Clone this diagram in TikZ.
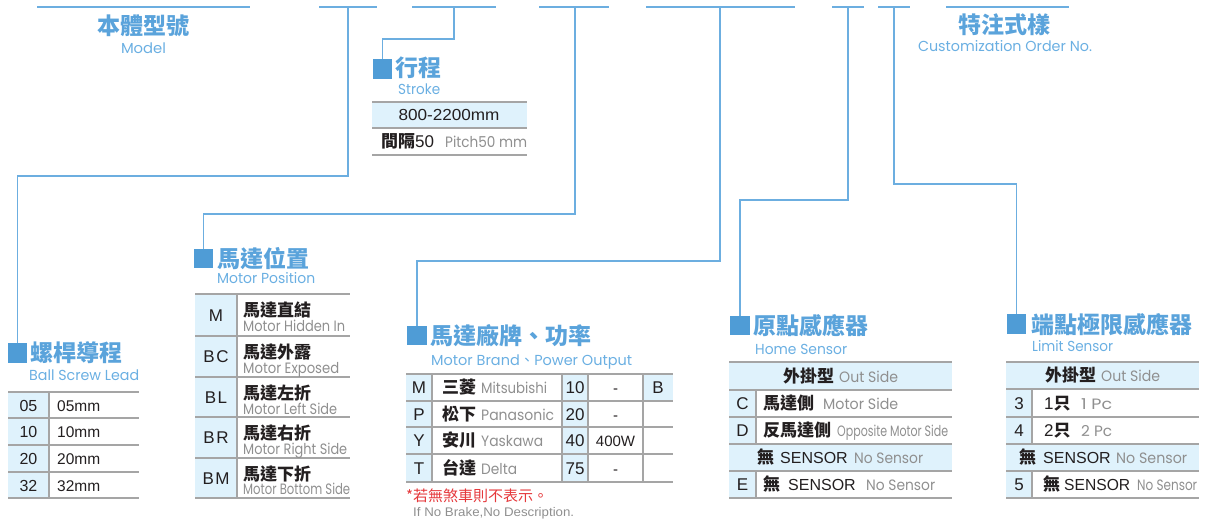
\documentclass[tikz,border=0pt]{standalone}
\usepackage{fontspec}
\usepackage{graphicx}
\setmainfont{Liberation Sans}
\newfontfamily\cjk{Noto Sans CJK TC}
\newfontfamily\eng{Poppins}
\newcommand\fw[2]{\resizebox{#1pt}{\height}{#2}}
\definecolor{lineblue}{HTML}{6CAEE0}
\definecolor{titleblue}{HTML}{5AA3DB}
\definecolor{subblue}{HTML}{6AAFE2}
\definecolor{sqblue}{HTML}{4F9CD6}
\definecolor{tgray}{HTML}{A5A5A5}
\definecolor{lightfill}{HTML}{DFF2FC}
\definecolor{dark}{HTML}{231F20}
\definecolor{graytext}{HTML}{8F8F8F}
\definecolor{notered}{HTML}{E5383B}
\tikzset{
 conn/.style={draw=lineblue, line width=1.6pt},
 sq/.style={fill=sqblue, minimum size=19.5pt, inner sep=0pt, draw=none},
 ttl/.style={font=\cjk\bfseries\fontsize{23}{23}\selectfont, text=titleblue, inner sep=0pt, anchor=base west},
 sub/.style={font=\eng\fontsize{14.5}{14.5}\selectfont, text=subblue, inner sep=0pt, anchor=base west},
 tl/.style={draw=tgray, line width=1.3pt},
 lf/.style={fill=lightfill, draw=none},
 cz/.style={font=\cjk\bfseries\fontsize{17}{17}\selectfont, text=dark, inner sep=0pt, anchor=base west},
 gr/.style={font=\eng\fontsize{15}{15}\selectfont, text=graytext, inner sep=0pt, anchor=base west},
 code/.style={font=\fontsize{17}{17}\selectfont, text=dark, inner sep=0pt, anchor=base},
 num/.style={font=\fontsize{15.5}{15.5}\selectfont, text=dark, inner sep=0pt, anchor=base west},
 sen/.style={font=\fontsize{16}{16}\selectfont, text=dark, inner sep=0pt, anchor=base west},
}
\begin{document}
\begin{tikzpicture}[x=1pt,y=-1pt]
\useasboundingbox (0,0) rectangle (1210,521);
% ---------- top line segments ----------
\foreach \a/\b in {37/250,319/377,412/496,539/609,646/795,832/864,878/910,946/1069}
  \draw[conn] (\a,7) -- (\b,7);
\coordinate (j1) at (348,7);
\coordinate (j2) at (454,7);
\coordinate (j3) at (575,7);
\coordinate (j4) at (720,7);
\coordinate (j5) at (848,7);
\coordinate (j6) at (894,7);
% ---------- headers ----------
\node[ttl, anchor=base] (tmodel) at (143.5,34.5) {本體型號};
\node[sub, anchor=base] (smodel) at (143.5,54) {\fw{45}{Model}};
\node[ttl, anchor=base] (tcust) at (1004,33.5) {特注式樣};
\node[sub, anchor=base] (scust) at (1005,52) {\fw{174}{Customization Order No.}};
% ---------- squares ----------
\node[sq] (sqst) at (382.5,69) {};
\node[sq] (sqball) at (17.5,353) {};
\node[sq] (sqmp) at (203.5,258.5) {};
\node[sq] (sqbr) at (417,335.5) {};
\node[sq] (sqhome) at (740,325.5) {};
\node[sq] (sqlim) at (1016.5,324) {};
% ---------- connectors ----------
\draw[conn] (j1) -- ++(0,169) -| (sqball.north);
\draw[conn] (j2) -- ++(0,32) -| (sqst.north);
\draw[conn] (j3) -- ++(0,207) -| (sqmp.north);
\draw[conn] (j4) -- ++(0,254) -| (sqbr.north);
\draw[conn] (j5) -- ++(0,193) -| (sqhome.north);
\draw[conn] (j6) -- ++(0,177) -| (sqlim.north);
% ---------- stroke ----------
\node[ttl] (tst) at (395,76.5) {行程};
\node[sub] (sst) at (398,95) {\fw{42}{Stroke}};
\fill[lf] (372,102) rectangle (527,128);
\foreach \y in {102,128,155} \draw[tl] (372,\y) -- (527,\y);
\node[code, font=\fontsize{16}{16}\selectfont] (st1) at (449,121) {\fw{101}{800-2200mm}};
\node[cz] (st2a) at (381,147.5) {間隔{\rmfamily\mdseries 50}};
\node[gr] (st2b) at (445,147.5) {\fw{82}{Pitch50 mm}};
% ---------- ball screw lead ----------
\node[ttl] (tball) at (30,361.5) {螺桿導程};
\node[sub] (sball) at (29,380) {\fw{110}{Ball Screw Lead}};
\fill[lf] (8,392) rectangle (49,498);
\foreach \y in {392,418,445,472,498} \draw[tl] (8,\y) -- (139,\y);
\draw[tl] (49,392) -- (49,498);
\foreach \c/\yb [count=\i] in {05/411,10/437.5,20/464.5,32/491}{
  \node[code, font=\fontsize{16}{16}\selectfont] (bc\i) at (28.5,\yb) {\c};
  \node[num] (bv\i) at (57,\yb) {\c mm};
}
% ---------- motor position ----------
\node[ttl] (tmp) at (217,267.5) {馬達位置};
\node[sub] (smp) at (217,284) {\fw{98}{Motor Position}};
\fill[lf] (195,294) rectangle (237,498);
\foreach \y in {294,336,377,417,458,498} \draw[tl] (195,\y) -- (350,\y);
\draw[tl] (237,294) -- (237,498);
\node[code] (mc1) at (216,321) {M};
\node[code] (mc2) at (216,362.5) {B\kern1.5pt C};
\node[code] (mc3) at (216,403) {B\kern1.5pt L};
\node[code] (mc4) at (216,443.5) {B\kern1.5pt R};
\node[code] (mc5) at (216,484) {B\kern1.5pt M};
\node[cz] (mz1) at (243,316.5) {馬達直結};
\node[cz] (mz2) at (243,358.5) {馬達外露};
\node[cz] (mz3) at (243,399.5) {馬達左折};
\node[cz] (mz4) at (243,439.5) {馬達右折};
\node[cz] (mz5) at (243,480.5) {馬達下折};
\node[gr] (me1) at (243,331) {\fw{102}{Motor Hidden In}};
\node[gr] (me2) at (243,373) {\fw{96}{Motor Exposed}};
\node[gr] (me3) at (243,414) {\fw{94}{Motor Left Side}};
\node[gr] (me4) at (243,454) {\fw{104}{Motor Right Side}};
\node[gr] (me5) at (243,494.5) {\fw{107}{Motor Bottom Side}};
% ---------- motor brand / power ----------
\node[ttl] (tbr) at (430,344.5) {馬達廠牌、功率};
\node[sub] (sbr) at (431,365) {\fw{201}{Motor Brand{\cjk 、}Power Output}};
\fill[lf] (406,374) rectangle (432,482);
\fill[lf] (562,374) rectangle (588,482);
\fill[lf] (643,374) rectangle (673,401);
\foreach \y in {374,401,427,454,482} \draw[tl] (406,\y) -- (673,\y);
\foreach \x in {432,562,588,643} \draw[tl] (\x,374) -- (\x,482);
\foreach \c/\z/\e/\w/\n/\p/\yb [count=\i] in {M/三菱/Mitsubishi/66/10/-/393.5, P/松下/Panasonic/73/20/-/420, Y/安川/Yaskawa/62/40/400W/446.5, T/台達/Delta/36/75/-/474}{
  \node[code] (brc\i) at (419,\yb) {\c};
  \node[cz] (brz\i) at (442,\yb) {\z};
  \node[gr] (bre\i) at (481,\yb) {\fw{\w}{\e}};
  \node[code] (brn\i) at (575,\yb) {\n};
  \node[code, font=\fontsize{15}{15}\selectfont] (brp\i) at (615.5,\yb) {\p};
}
\node[code] (brb) at (658,393.5) {B};
\node[font=\cjk\fontsize{15}{15}\selectfont, text=notered, anchor=base west, inner sep=0pt] (note1) at (406,501.5) {*若無煞車則不表示。};
\node[font=\fontsize{12.5}{12.5}\selectfont, text=graytext, anchor=base west, inner sep=0pt] (note2) at (413,516.5) {\fw{161}{If No Brake,No Description.}};
% ---------- home sensor ----------
\node[ttl] (thome) at (753,334.5) {原點感應器};
\node[sub] (shome) at (755,354) {\fw{92}{Home Sensor}};
\fill[lf] (729,362) rectangle (952,390);
\fill[lf] (729,444) rectangle (952,471);
\fill[lf] (729,390) rectangle (756,444);
\fill[lf] (729,471) rectangle (756,498);
\foreach \y in {362,390,417,444,471,498} \draw[tl] (729,\y) -- (952,\y);
\draw[tl] (756,390) -- (756,444);
\draw[tl] (756,471) -- (756,498);
\node[cz] (h1z) at (783,382) {外掛型};
\node[gr] (h1e) at (839,382) {\fw{59}{Out Side}};
\node[code] (h2c) at (742.5,409.5) {C};
\node[cz] (h2z) at (763,409.5) {馬達側};
\node[gr] (h2e) at (823,409.5) {\fw{75}{Motor Side}};
\node[code] (h3c) at (742.5,436.5) {D};
\node[cz] (h3z) at (763,436.5) {反馬達側};
\node[gr] (h3e) at (837,436.5) {\fw{111}{Opposite Motor Side}};
\node[cz] (h4z) at (757,463.5) {無};
\node[sen] (h4s) at (780,463.5) {SENSOR};
\node[gr] (h4e) at (854,463.5) {\fw{69}{No Sensor}};
\node[code] (h5c) at (742.5,490.5) {E};
\node[cz] (h5z) at (763,490.5) {無};
\node[sen] (h5s) at (788,490.5) {SENSOR};
\node[gr] (h5e) at (866,490.5) {\fw{69}{No Sensor}};
% ---------- limit sensor ----------
\node[ttl] (tlim) at (1031,333.5) {端點極限感應器};
\node[sub] (slim) at (1032,352) {\fw{81}{Limit Sensor}};
\fill[lf] (1006,362) rectangle (1199,389);
\fill[lf] (1006,444) rectangle (1199,471);
\fill[lf] (1006,389) rectangle (1032,444);
\fill[lf] (1006,471) rectangle (1032,498);
\foreach \y in {362,389,417,444,471,498} \draw[tl] (1006,\y) -- (1199,\y);
\draw[tl] (1032,389) -- (1032,444);
\draw[tl] (1032,471) -- (1032,498);
\node[cz] (l1z) at (1045,381.5) {外掛型};
\node[gr] (l1e) at (1101,381.5) {\fw{59}{Out Side}};
\node[code] (l2c) at (1019,409) {3};
\node[cz] (l2z) at (1044,409) {{\rmfamily\mdseries 1}只};
\node[gr] (l2e) at (1081,409) {\fw{31}{1 Pc}};
\node[code] (l3c) at (1019,436.5) {4};
\node[cz] (l3z) at (1044,436.5) {{\rmfamily\mdseries 2}只};
\node[gr] (l3e) at (1081,436.5) {\fw{31}{2 Pc}};
\node[cz] (l4z) at (1019,463.5) {無};
\node[sen] (l4s) at (1043,463.5) {SENSOR};
\node[gr] (l4e) at (1116,463.5) {\fw{71}{No Sensor}};
\node[code] (l5c) at (1019,490.5) {5};
\node[cz] (l5z) at (1043,490.5) {無};
\node[sen] (l5s) at (1064,490.5) {\fw{66}{SENSOR}};
\node[gr] (l5e) at (1137,490.5) {\fw{60}{No Sensor}};
\end{tikzpicture}
\end{document}
